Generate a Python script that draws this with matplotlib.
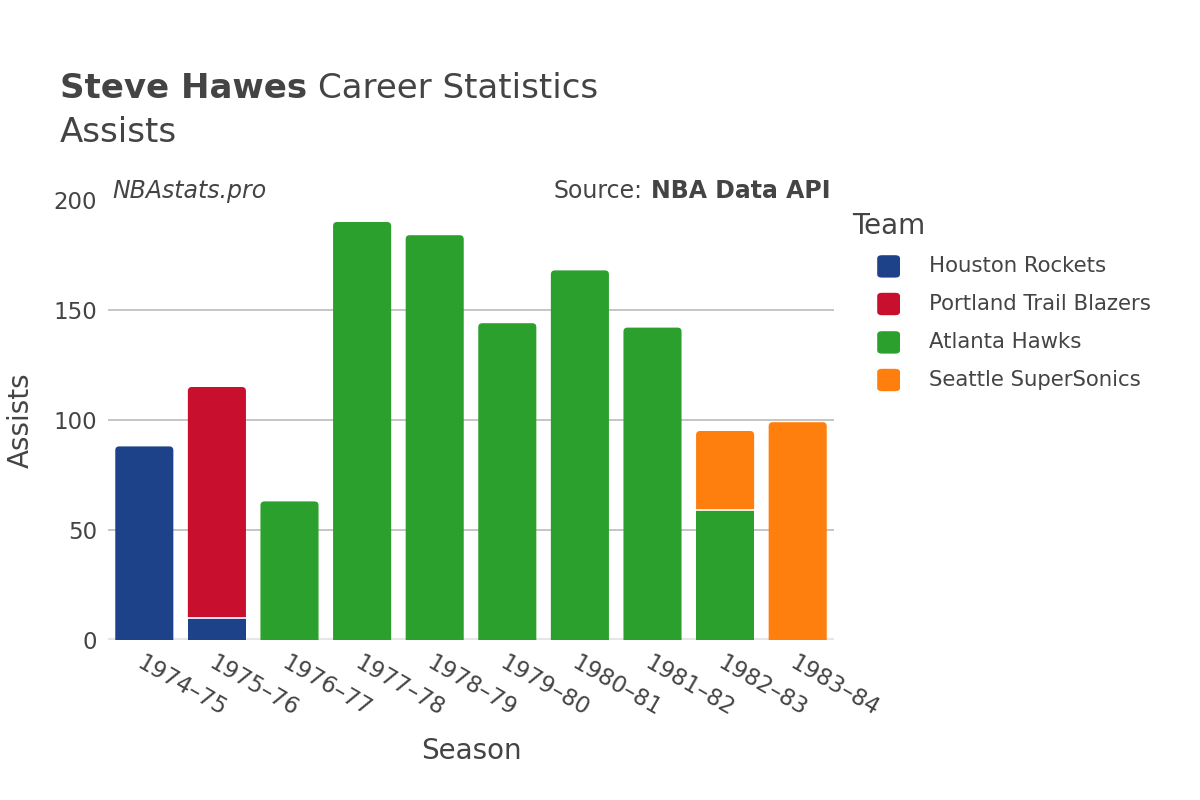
import matplotlib.pyplot as plt
from matplotlib.patches import FancyBboxPatch, PathPatch
from matplotlib.path import Path
import numpy as np

#=================
#data
#=================
seasons = ["1974–75", "1975–76", "1976–77", "1977–78", "1978–79",
           "1979–80", "1980–81", "1981–82", "1982–83", "1983–84"]
teams = ["Houston Rockets", "Portland Trail Blazers", "Atlanta Hawks", "Seattle SuperSonics"]
team_colors = ["#1d428a", "#c8102e", "#2ca02c", "#ff7f0e"]

houston = [88, 10, 0, 0, 0, 0, 0, 0, 0, 0]
portland = [0, 105, 0, 0, 0, 0, 0, 0, 0, 0]
atlanta = [0, 0, 63, 190, 184, 144, 168, 142, 59, 0]
seattle = [0, 0, 0, 0, 0, 0, 0, 0, 36, 99]

text_color = "#444444"
bar_width = 0.8


def rounded_top_bar(ax, x0, y0, w, h, rx, ry, color):
    x1 = x0 + w
    y1 = y0 + h
    verts = [
        (x0, y0), (x1, y0), (x1, y1 - ry),
        (x1, y1), (x1 - rx, y1),
        (x0 + rx, y1),
        (x0, y1), (x0, y1 - ry),
        (x0, y0),
    ]
    codes = [
        Path.MOVETO, Path.LINETO, Path.LINETO,
        Path.CURVE3, Path.CURVE3,
        Path.LINETO,
        Path.CURVE3, Path.CURVE3,
        Path.CLOSEPOLY,
    ]
    ax.add_patch(PathPatch(Path(verts, codes), facecolor=color,
                           edgecolor="none", zorder=3))


#=================
#plot
#=================
fig = plt.figure(figsize=(12, 8), dpi=100)
ax = fig.add_axes([0.09, 0.2, 0.605, 0.55])

x = np.arange(len(seasons))
series = [np.array(v, dtype=float) for v in [houston, portland, atlanta, seattle]]

# top segment of each stack gets rounded top corners
top_team = []
for i in range(len(seasons)):
    idx = [k for k in range(len(teams)) if series[k][i] > 0]
    top_team.append(idx[-1])

ax.set_xlim(-0.5, len(seasons) - 0.5)
ax.set_ylim(0, 200)
px_x = 0.605 * 1200 / len(seasons)
px_y = 0.55 * 800 / 200
rx = 4 / px_x
ry = 4 / px_y

bottom = np.zeros(len(seasons))
for k, (vals, color) in enumerate(zip(series, team_colors)):
    for i in range(len(seasons)):
        v = vals[i]
        if v <= 0:
            continue
        x0 = x[i] - bar_width / 2
        if top_team[i] == k:
            rounded_top_bar(ax, x0, bottom[i], bar_width, v, rx, ry, color)
        else:
            ax.bar(x[i], v, width=bar_width, bottom=bottom[i], color=color,
                   edgecolor="none", zorder=3)
        if bottom[i] > 0:
            ax.plot([x0, x0 + bar_width], [bottom[i], bottom[i]],
                    color="white", linewidth=1.2, zorder=4)
    bottom += vals

ax.set_yticks([0, 50, 100, 150, 200])
for yv in [50, 100, 150]:
    ax.axhline(yv, color="#bbbbbb", linewidth=1.2, zorder=1)
ax.axhline(0, color="#e6e6e6", linewidth=3, zorder=2)

for s in ax.spines.values():
    s.set_visible(False)
ax.tick_params(axis="both", length=0, labelsize=16.5, colors=text_color, pad=8)
ax.set_xticks(x)
ax.set_xticklabels(seasons, rotation=-30, ha="left", va="top",
                   rotation_mode="anchor")

ax.set_ylabel("Assists", fontsize=20, color=text_color, labelpad=13)
ax.set_xlabel("Season", fontsize=20, color=text_color, labelpad=12)

#=================
#titles
#=================
fig.canvas.draw()
renderer = fig.canvas.get_renderer()

t1 = fig.text(0.05, 0.89, "Steve Hawes", fontsize=24.5, fontweight="bold",
              color=text_color, va="center")
bb = t1.get_window_extent(renderer)
fig.text(bb.x1 / 1200 + 0.009, 0.89, "Career Statistics", fontsize=24.5,
         color=text_color, va="center")
fig.text(0.05, 0.835, "Assists", fontsize=24.5, color=text_color, va="center")

fig.text(0.094, 0.761, "NBAstats.pro", fontsize=17, style="italic",
         color=text_color, va="center")
t2 = fig.text(0.692, 0.761, "NBA Data API", fontsize=17, fontweight="bold",
              color=text_color, va="center", ha="right")
bb2 = t2.get_window_extent(renderer)
fig.text(bb2.x0 / 1200 - 0.007, 0.761, "Source:", fontsize=17,
         color=text_color, va="center", ha="right")

#=================
#legend
#=================
fig.text(0.71, 0.717, "Team", fontsize=20, color=text_color, va="center")
leg_y = [0.667, 0.62, 0.572, 0.525]
for name, color, yy in zip(teams, team_colors, leg_y):
    box = FancyBboxPatch((0.731, yy - 0.014), 0.019, 0.028,
                         boxstyle="round,pad=0,rounding_size=0.004",
                         transform=fig.transFigure, facecolor=color,
                         edgecolor="none")
    fig.patches.append(box)
    fig.text(0.774, yy, name, fontsize=15.3, color=text_color, va="center")

plt.savefig("out.png", dpi=100)
plt.close()
